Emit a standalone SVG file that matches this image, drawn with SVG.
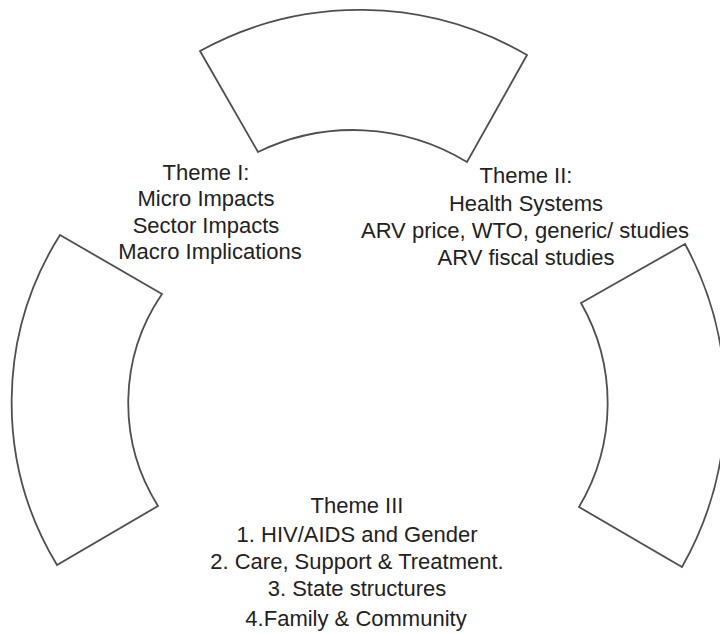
<svg xmlns="http://www.w3.org/2000/svg" width="720" height="634" viewBox="0 0 720 634">
  <style>
    .seg { fill: #ffffff; stroke: #4f4f4f; stroke-width: 1.8; stroke-linejoin: miter; }
    .lbl { font-family: "Liberation Sans", Arial, sans-serif; font-size: 22px; fill: #222222; text-anchor: middle; }
  </style>
  <rect width="720" height="634" fill="#ffffff"/>
  <g id="segment-top">
    <path class="seg" d="M200,51 A332,332 0 0 1 527,55 L467,162 A218,218 0 0 0 258,152 Z"/>
  </g>
  <g id="segment-left">
    <path class="seg" d="M60,235 L162,294 A193,193 0 0 0 158,506 L57,565 A314,314 0 0 1 60,235 Z"/>
  </g>
  <g id="segment-right">
    <path class="seg" d="M581,303 L685,244 A333,333 0 0 1 682,567 L579,507 A202,202 0 0 0 581,303 Z"/>
  </g>
  <g id="theme-1">
    <text class="lbl" x="206" y="179.5">Theme I:</text>
    <text class="lbl" x="206" y="206">Micro Impacts</text>
    <text class="lbl" x="206" y="232.7">Sector Impacts</text>
    <text class="lbl" x="210" y="259.3">Macro Implications</text>
  </g>
  <g id="theme-2">
    <text class="lbl" x="526" y="183.3">Theme II:</text>
    <text class="lbl" x="526" y="210.7">Health Systems</text>
    <text class="lbl" x="525" y="238.3">ARV price, WTO, generic/ studies</text>
    <text class="lbl" x="526" y="265">ARV fiscal studies</text>
  </g>
  <g id="theme-3">
    <text class="lbl" x="357" y="513.3">Theme III</text>
    <text class="lbl" x="357" y="541.7">1. HIV/AIDS and Gender</text>
    <text class="lbl" x="357" y="569.3">2. Care, Support &amp; Treatment.</text>
    <text class="lbl" x="357" y="595.7">3. State structures</text>
    <text class="lbl" x="356" y="626">4.Family &amp; Community</text>
  </g>
</svg>
